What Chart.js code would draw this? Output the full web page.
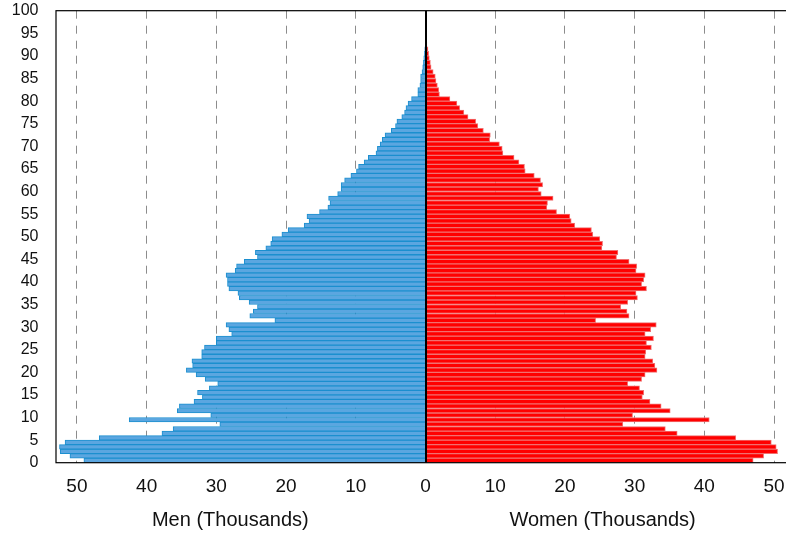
<!DOCTYPE html>
<html>
<head>
<meta charset="utf-8">
<script src="https://cdn.jsdelivr.net/npm/chart.js@4.4.0/dist/chart.umd.min.js"></script>
<style>
    html, body { margin: 0; padding: 0; background: #fff; overflow: hidden; }
    #wrap { position: relative; width: 800px; height: 536px; }
</style>
</head>
<body>
<div id="wrap"><canvas id="pyramidChart"></canvas></div>
<script>
// ==========================
// PIRÁMIDE DE POBLACIÓN
// ==========================

// edades 0..95 (una barra por año)
const ages = Array.from({ length: 96 }, (_, i) => i);

// hombres, miles
const men = [
    49.0, 51.0, 52.4, 52.5, 51.7, 46.8, 37.8, 36.2, 29.5, 42.5,
    30.8, 35.6, 35.3, 33.2, 32.0, 32.7, 31.0, 29.8, 31.6, 32.9,
    34.3, 33.4, 33.5, 32.1, 32.1, 31.7, 30.0, 30.0, 27.8, 28.2,
    28.6, 21.6, 25.2, 24.7, 24.1, 25.3, 26.7, 26.9, 28.2, 28.4,
    28.4, 28.6, 27.3, 27.1, 26.0, 24.1, 24.4, 22.9, 22.2, 22.0,
    20.6, 19.7, 17.4, 16.7, 17.0, 15.2, 14.0, 13.7, 13.9, 12.6,
    12.1, 12.1, 11.6, 10.7, 9.9, 9.6, 8.8, 8.2, 7.1, 6.9,
    6.5, 6.2, 5.8, 4.9, 4.3, 4.1, 3.4, 3.0, 2.8, 2.5,
    2.0, 1.1, 1.1, 0.8, 0.7, 0.7, 0.5, 0.4, 0.3, 0.25,
    0.15, 0.1, 0.07, 0.05, 0.03, 0.02
];

// mujeres, miles
const women = [
    47.0, 48.5, 50.5, 50.3, 49.6, 44.5, 36.1, 34.4, 28.3, 40.7,
    29.7, 35.1, 33.8, 32.2, 31.1, 31.3, 30.7, 29.0, 31.0, 31.5,
    33.2, 32.9, 32.6, 31.5, 31.6, 32.4, 31.7, 32.7, 31.5, 32.3,
    33.1, 24.4, 29.2, 28.9, 28.0, 29.0, 30.4, 30.2, 31.7, 31.0,
    31.3, 31.5, 30.2, 30.3, 29.2, 27.4, 27.6, 25.3, 25.4, 25.0,
    24.0, 23.8, 21.4, 20.9, 20.7, 18.8, 17.4, 17.5, 18.3, 16.6,
    16.2, 16.8, 16.5, 15.6, 14.3, 14.2, 13.4, 12.7, 11.1, 11.0,
    10.6, 9.2, 9.3, 8.3, 7.5, 7.2, 6.1, 5.5, 4.9, 4.5,
    3.5, 2.0, 1.9, 1.7, 1.5, 1.4, 1.1, 0.8, 0.7, 0.55,
    0.45, 0.35, 0.2, 0.15, 0.1, 0.05
];

const xTicks = [-50, -40, -30, -20, -10, 0, 10, 20, 30, 40, 50];
const yTicks = [0, 5, 10, 15, 20, 25, 30, 35, 40, 45, 50, 55, 60, 65, 70, 75, 80, 85, 90, 95, 100];

const menTitle = "Men (Thousands)";
const womenTitle = "Women (Thousands)";

const FONT = '"Liberation Sans", Arial, sans-serif';


// marco, línea del cero y títulos de cada lado
const pyramidFrame = {

    id: "pyramidFrame",

    afterDatasetsDraw(chart) {

        const { ctx, chartArea: a, scales: { x } } = chart;

        ctx.save();

        const x0 = Math.round(x.getPixelForValue(0));

        ctx.strokeStyle = "#000";
        ctx.lineWidth = 2;
        ctx.beginPath();
        ctx.moveTo(x0, a.top);
        ctx.lineTo(x0, a.bottom);
        ctx.stroke();

        ctx.lineWidth = 1.2;
        ctx.strokeRect(a.left, a.top, a.right - a.left, a.bottom - a.top);

        ctx.fillStyle = "#111";
        ctx.font = "20px " + FONT;
        ctx.textAlign = "center";
        ctx.textBaseline = "alphabetic";
        ctx.fillText(menTitle, x.getPixelForValue(-28), 526);
        ctx.fillText(womenTitle, x.getPixelForValue(25.4), 526);

        ctx.restore();

    }

};


const ctx = document
    .querySelector("#pyramidChart")
    .getContext("2d");

new Chart(ctx, {

    type: "bar",

    data: {

        datasets: [

            {
                label: "Men",
                data: ages.map(age => ({ x: -men[age], y: age + 0.5 })),
                backgroundColor: "#5ba6e0",
                borderColor: "#1b8fcf",
                borderWidth: 1,
                grouped: false,
                barPercentage: 1,
                categoryPercentage: 1
            },

            {
                label: "Women",
                data: ages.map(age => ({ x: women[age], y: age + 0.5 })),
                backgroundColor: "#ff0000",
                borderColor: "#f07070",
                borderWidth: 1,
                grouped: false,
                barPercentage: 1,
                categoryPercentage: 1
            }

        ]

    },

    options: {

        indexAxis: "y",

        responsive: true,

        maintainAspectRatio: false,

        animation: false,

        layout: {
            padding: { top: 10.7, right: 5, left: 0, bottom: 0 }
        },

        plugins: {
            legend: { display: false },
            tooltip: { enabled: false }
        },

        scales: {

            x: {
                type: "linear",
                min: -53,
                max: 53,
                afterBuildTicks: scale => {
                    scale.ticks = xTicks.map(v => ({ value: v }));
                },
                afterFit: scale => {
                    scale.height = 73.3;
                    scale.paddingLeft = 0;
                    scale.paddingRight = 0;
                },
                ticks: {
                    autoSkip: false,
                    maxRotation: 0,
                    padding: 13,
                    color: "#111",
                    font: { family: FONT, size: 19 },
                    callback: value => Math.abs(value)
                },
                grid: {
                    drawTicks: false,
                    lineWidth: 1,
                    color: c => (c.tick && c.tick.value === 0) ? "rgba(0,0,0,0)" : "#8c8c8c"
                },
                border: {
                    display: false,
                    dash: [8, 7]
                }
            },

            y: {
                type: "linear",
                min: 0,
                max: 100,
                offset: false,
                afterBuildTicks: scale => {
                    scale.ticks = yTicks.map(v => ({ value: v }));
                },
                afterFit: scale => {
                    scale.width = 56;
                    scale.paddingTop = 0;
                    scale.paddingBottom = 0;
                },
                ticks: {
                    autoSkip: false,
                    padding: 17.5,
                    color: "#111",
                    font: { family: FONT, size: 16 }
                },
                grid: {
                    display: false,
                    drawTicks: false,
                    offset: false
                },
                border: {
                    display: false
                }
            }

        }

    },

    plugins: [pyramidFrame]

});
</script>
</body>
</html>
